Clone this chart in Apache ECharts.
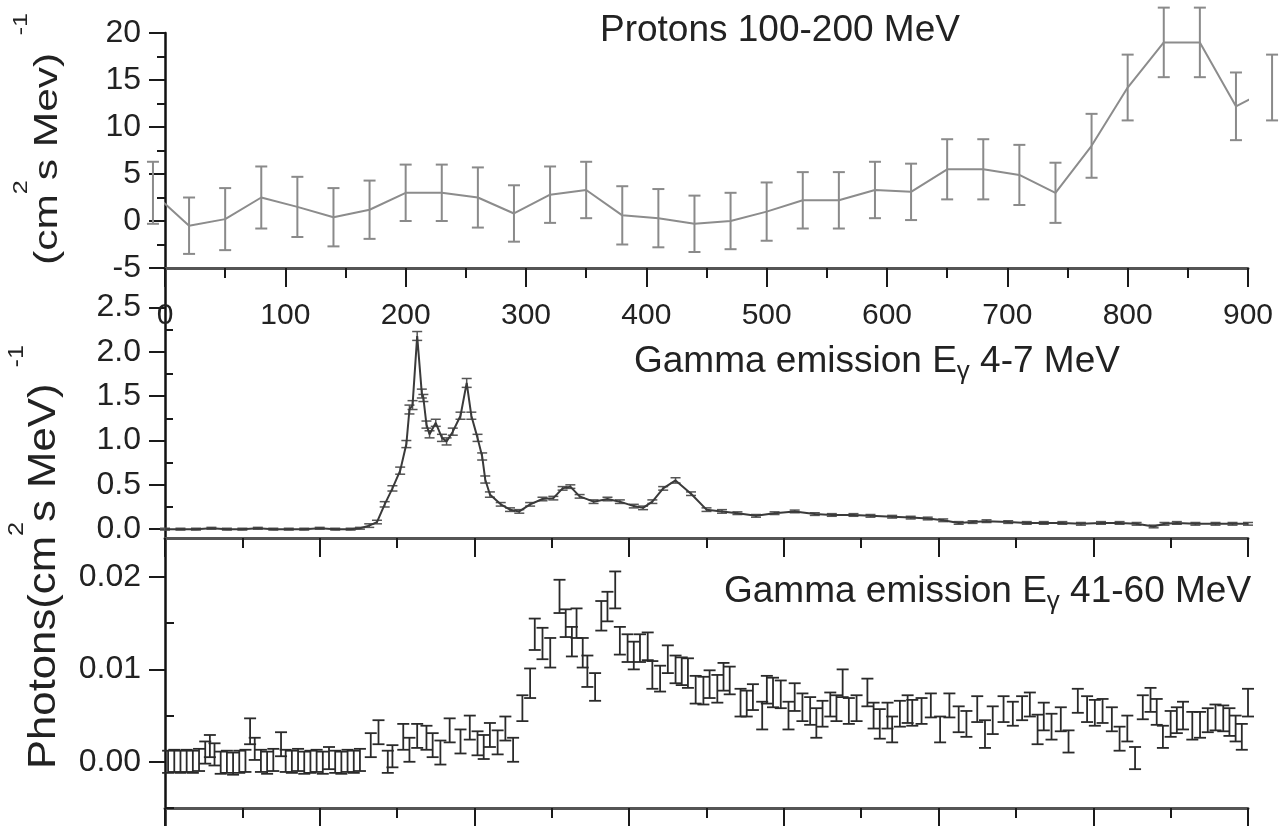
<!DOCTYPE html>
<html><head><meta charset="utf-8">
<script src="https://cdn.jsdelivr.net/npm/echarts@6/dist/echarts.min.js"></script>
<style>html,body{margin:0;padding:0;background:#fff}#c{width:1281px;height:826px}</style>
</head><body><div id="c"></div>
<script>
const FONT = '"Liberation Sans", Arial, Helvetica, sans-serif';

// ---- Panel 1: Protons 100-200 MeV ----
const topX = [-10,20,50,80,110,140,170,200,230,260,290,320,350,380,410,440,470,500,530,560,590,620,650,680,710,740,770,800,830,860,890,920];
const topY = [3.0,-0.5,0.2,2.5,1.5,0.4,1.2,3.0,3.0,2.5,0.8,2.8,3.3,0.6,0.3,-0.3,0.0,1.0,2.2,2.2,3.3,3.1,5.5,5.5,4.9,3.0,8.0,14.2,19.0,19.0,12.2,14.2];
const topE = [3.3,3.0,3.3,3.3,3.2,3.1,3.1,3.0,3.0,3.2,3.0,3.0,3.0,3.1,3.1,3.0,3.0,3.1,3.0,3.0,3.0,3.0,3.2,3.2,3.2,3.2,3.4,3.5,3.7,3.7,3.6,3.5];

// ---- Panel 2: Gamma emission 4-7 MeV ----
const midX = [0,10,20,30,40,50,60,70,80,90,
  100,110,120,126,132,137,142,147,152,156,
  158,160,163,166,167,169,171,175,179,182,
  186,191,195,198,202,205,207,210,217,223,
  229,236,244,251,257,262,268,277,286,294,
  303,309,315,322,330,340,350,360,370,382,
  394,407,420,431,445,456,470,482,493,503,
  513,522,531,545,557,568,580,592,605,617,
  628,639,646,654,666,679,690,700];
const midY = [0.00,0.00,0.00,0.01,0.00,0.00,0.01,0.00,0.00,0.00,
  0.01,0.00,0.00,0.01,0.04,0.08,0.28,0.46,0.66,0.96,
  1.35,1.40,2.18,1.53,1.48,1.18,1.07,1.20,1.03,0.99,
  1.10,1.28,1.65,1.28,1.03,0.82,0.56,0.39,0.28,0.22,
  0.20,0.28,0.34,0.35,0.46,0.48,0.37,0.31,0.34,0.31,
  0.26,0.24,0.31,0.46,0.55,0.40,0.22,0.20,0.18,0.15,
  0.18,0.20,0.17,0.16,0.16,0.15,0.14,0.13,0.12,0.10,
  0.07,0.08,0.09,0.08,0.07,0.07,0.07,0.06,0.07,0.07,
  0.06,0.03,0.06,0.07,0.06,0.06,0.06,0.06];
const midE = [0.01,0.01,0.01,0.01,0.01,0.01,0.01,0.01,0.01,0.01,
  0.01,0.01,0.01,0.01,0.02,0.02,0.03,0.03,0.04,0.04,
  0.05,0.05,0.05,0.05,0.04,0.04,0.04,0.04,0.04,0.04,
  0.04,0.04,0.05,0.04,0.04,0.04,0.04,0.03,0.02,0.02,
  0.02,0.02,0.02,0.02,0.02,0.02,0.02,0.02,0.02,0.02,
  0.02,0.02,0.02,0.02,0.03,0.02,0.02,0.02,0.015,0.015,
  0.015,0.015,0.015,0.015,0.015,0.015,0.015,0.015,0.015,0.015,
  0.015,0.015,0.015,0.015,0.015,0.015,0.015,0.015,0.015,0.015,
  0.015,0.015,0.015,0.015,0.015,0.015,0.015,0.015];

// ---- Panel 3: Gamma emission 41-60 MeV ----
const lowX = [2,6,10,14,18,22,26,29,32,36,
  40,44,48,52,55,58,62,66,70,75,
  78,82,86,90,94,98,102,106,110,114,
  118,122,126,133,138,144,147,154,158,163,
  169,173,178,184,191,197,202,206,210,215,
  220,225,231,236,239,244,249,255,259,263,
  266,270,273,278,282,286,291,294,299,303,
  307,312,315,320,325,330,334,338,343,348,
  352,357,361,365,372,376,380,386,389,393,
  398,403,407,412,417,421,425,430,434,438,
  442,447,454,458,462,467,470,475,480,483,
  489,495,501,507,513,518,525,530,535,542,
  548,554,559,564,568,573,579,584,590,596,
  601,606,612,617,622,627,632,637,641,645,
  650,654,658,664,669,674,679,684,688,692,
  696,700];
const lowY = [0.0000,0.0001,0.0000,0.0001,0.0000,0.0002,0.0010,0.0017,0.0008,-0.0001,
  0.0000,-0.0002,0.0000,0.0001,0.0033,0.0014,0.0001,-0.0001,0.0002,0.0019,
  0.0001,0.0000,0.0002,-0.0001,0.0000,0.0001,-0.0001,0.0004,0.0000,-0.0001,
  0.0001,0.0000,0.0002,0.0018,0.0032,0.0000,0.0006,0.0027,0.0013,0.0028,
  0.0026,0.0018,0.0010,0.0034,0.0022,0.0037,0.0020,0.0016,0.0029,0.0021,
  0.0036,0.0013,0.0058,0.0085,0.0138,0.0128,0.0118,0.0179,0.0150,0.0130,
  0.0150,0.0118,0.0098,0.0081,0.0158,0.0168,0.0186,0.0131,0.0123,0.0115,
  0.0123,0.0125,0.0094,0.0090,0.0111,0.0100,0.0098,0.0096,0.0078,0.0077,
  0.0084,0.0079,0.0092,0.0088,0.0064,0.0063,0.0070,0.0050,0.0078,0.0075,
  0.0073,0.0050,0.0070,0.0059,0.0055,0.0042,0.0052,0.0062,0.0058,0.0085,
  0.0055,0.0058,0.0075,0.0050,0.0041,0.0050,0.0035,0.0052,0.0057,0.0053,
  0.0055,0.0061,0.0035,0.0061,0.0046,0.0041,0.0057,0.0030,0.0045,0.0057,
  0.0052,0.0058,0.0062,0.0035,0.0049,0.0038,0.0046,0.0022,0.0066,0.0057,
  0.0053,0.0055,0.0046,0.0025,0.0036,0.0004,0.0059,0.0067,0.0054,0.0027,
  0.0041,0.0045,0.0050,0.0039,0.0040,0.0045,0.0048,0.0047,0.0043,0.0036,
  0.0027,0.0064];
const lowE = [0.0012,0.0012,0.0012,0.0012,0.0012,0.0012,0.0012,0.0012,0.0012,0.0012,
  0.0012,0.0012,0.0012,0.0012,0.0014,0.0012,0.0012,0.0012,0.0012,0.0013,
  0.0012,0.0012,0.0012,0.0012,0.0012,0.0012,0.0012,0.0012,0.0012,0.0012,
  0.0012,0.0012,0.0012,0.0013,0.0013,0.0012,0.0012,0.0014,0.0013,0.0013,
  0.0013,0.0013,0.0013,0.0013,0.0013,0.0013,0.0013,0.0013,0.0013,0.0013,
  0.0013,0.0013,0.0014,0.0016,0.0017,0.0017,0.0016,0.0018,0.0015,0.0016,
  0.0016,0.0016,0.0017,0.0015,0.0016,0.0016,0.0020,0.0015,0.0015,0.0015,
  0.0015,0.0015,0.0015,0.0014,0.0015,0.0015,0.0015,0.0016,0.0015,0.0015,
  0.0015,0.0015,0.0015,0.0015,0.0015,0.0014,0.0014,0.0015,0.0015,0.0016,
  0.0015,0.0015,0.0015,0.0015,0.0015,0.0016,0.0014,0.0013,0.0014,0.0015,
  0.0014,0.0014,0.0015,0.0014,0.0016,0.0014,0.0014,0.0014,0.0015,0.0014,
  0.0014,0.0013,0.0014,0.0013,0.0014,0.0014,0.0014,0.0015,0.0015,0.0014,
  0.0013,0.0013,0.0013,0.0016,0.0015,0.0014,0.0013,0.0012,0.0013,0.0014,
  0.0014,0.0013,0.0013,0.0013,0.0014,0.0012,0.0013,0.0013,0.0014,0.0012,
  0.0014,0.0014,0.0015,0.0015,0.0014,0.0013,0.0014,0.0014,0.0015,0.0014,
  0.0014,0.0015];

// tick labels
const midYLabels = [0, 0.5, 1.0, 1.5, 2.0, 2.5];
const midYMinor = [0.25, 0.75, 1.25, 1.75, 2.25];
const lowYLabels = [0, 0.01, 0.02];
const lowYMinor = [-0.005, 0.005, 0.015];

const titles = ['Protons 100-200 MeV', ['Gamma emission E', 'γ', ' 4-7 MeV'], ['Gamma emission E', 'γ', ' 41-60 MeV']];
// axis-name pieces: [body, superscript, body, superscript]
const topUnit = ['(cm', '2', 's Mev)', '-1'];
const lowUnit = ['Photons(cm', '2', 's MeV)', '-1'];

function errBars(color, cap, lw) {
  return function (params, api) {
    const x = api.value(0), y = api.value(1), e = api.value(2);
    const hi = api.coord([x, y + e]);
    const lo = api.coord([x, y - e]);
    const mk = (x1, y1, x2, y2) => ({type: 'line', shape: {x1, y1, x2, y2}, style: {stroke: color, lineWidth: lw}});
    return {type: 'group', children: [
      mk(hi[0], hi[1], lo[0], lo[1]),
      mk(hi[0] - cap, hi[1], hi[0] + cap, hi[1]),
      mk(lo[0] - cap, lo[1], lo[0] + cap, lo[1])
    ]};
  };
}

const tickStyle = {color: '#1a1a1a', width: 2};
function xAx(grid, max, showLabel, offset) {
  return {
    gridIndex: grid, type: 'value', min: 0, max: max, interval: 100, position: 'bottom', offset: offset,
    axisLine: {show: true, onZero: false, lineStyle: {color: '#555', width: 3}},
    axisTick: {show: true, length: 19, lineStyle: tickStyle},
    minorTick: {show: true, splitNumber: 2, length: 10, lineStyle: tickStyle},
    axisLabel: {show: showLabel, fontSize: 30, color: '#222', fontFamily: FONT, margin: 33},
    splitLine: {show: false}, minorSplitLine: {show: false}
  };
}
const yLine = {show: true, onZero: false, lineStyle: {color: '#111', width: 2.5}};
const yLabel = {fontSize: 32, color: '#222', fontFamily: FONT, margin: 24};

const gammaRich = {
  a: {fontSize: 37, lineHeight: 37, fontWeight: 'normal', verticalAlign: 'top', fontFamily: FONT, color: '#222'},
  g: {fontSize: 26, lineHeight: 26, fontWeight: 'normal', padding: [16, 0, 0, 0], verticalAlign: 'top', fontFamily: FONT, color: '#222'}
};
const gt = t => '{a|' + t[0] + '}{g|' + t[1] + '}{a|' + t[2] + '}';

// rotated unit label built from text pieces (body + raised superscripts)
function unitLabel(parts, cx, cy, fsBody, fsSup, supShift, gap, stretch) {
  const ctx = document.createElement('canvas').getContext('2d');
  const w = (t, fs) => { ctx.font = fs + 'px ' + FONT; return ctx.measureText(t).width; };
  const widths = [w(parts[0], fsBody), w(parts[1], fsSup), w(parts[2], fsBody), w(parts[3], fsSup)];
  const total = widths[0] + widths[1] + widths[2] + gap + widths[3];
  let x = -total / 2;
  const kids = [];
  parts.forEach((p, i) => {
    if (i === 3) x += gap;
    const sup = i % 2 === 1;
    kids.push({type: 'text', x: x, y: sup ? -supShift : 0,
      style: {text: p, fontSize: sup ? fsSup : fsBody, fontFamily: FONT, fill: '#222', align: 'left', verticalAlign: 'middle'}});
    x += widths[i];
  });
  return {type: 'group', x: cx, y: cy, rotation: Math.PI / 2, scaleX: stretch, children: kids};
}

const chart = echarts.init(document.getElementById('c'));
chart.setOption({
  animation: false,
  backgroundColor: '#fff',
  title: [
    {text: titles[0], left: 600, top: 12, padding: 0, textStyle: {fontSize: 37, lineHeight: 37, fontWeight: 'normal', fontFamily: FONT, color: '#222'}},
    {text: gt(titles[1]), left: 634, top: 343, padding: 0, textStyle: {fontWeight: 'normal', rich: gammaRich}},
    {text: gt(titles[2]), left: 724, top: 573, padding: 0, textStyle: {fontWeight: 'normal', rich: gammaRich}}
  ],
  grid: [
    {left: 165, width: 1083, top: 33, height: 235},
    {left: 165, width: 1083, top: 268, height: 270},
    {left: 165, width: 1083, top: 538, height: 288}
  ],
  xAxis: [xAx(0, 900, true, 0), xAx(1, 700, false, 0), xAx(2, 700, false, -18)],
  yAxis: [
    {gridIndex: 0, type: 'value', min: -5, max: 20, interval: 5, axisLine: yLine,
      axisTick: {show: true, length: 16, lineStyle: tickStyle},
      minorTick: {show: true, splitNumber: 2, length: 8, lineStyle: tickStyle},
      axisLabel: yLabel, splitLine: {show: false}},
    {gridIndex: 1, type: 'value', min: -0.1, max: 2.947, axisLine: yLine,
      axisTick: {show: true, length: 16, lineStyle: tickStyle, customValues: midYLabels},
      axisLabel: Object.assign({customValues: midYLabels, formatter: v => Number(v).toFixed(1)}, yLabel),
      splitLine: {show: false}},
    {gridIndex: 1, type: 'value', min: -0.1, max: 2.947, axisLine: {show: false},
      axisTick: {show: true, length: 8, lineStyle: tickStyle, customValues: midYMinor},
      axisLabel: {show: false}, splitLine: {show: false}},
    {gridIndex: 2, type: 'value', min: -0.00695, max: 0.02422, axisLine: yLine,
      axisTick: {show: true, length: 16, lineStyle: tickStyle, customValues: lowYLabels},
      axisLabel: Object.assign({customValues: lowYLabels, formatter: v => Number(v).toFixed(2)}, yLabel),
      splitLine: {show: false}},
    {gridIndex: 2, type: 'value', min: -0.00695, max: 0.02422, axisLine: {show: false},
      axisTick: {show: true, length: 9, lineStyle: tickStyle, customValues: lowYMinor},
      axisLabel: {show: false}, splitLine: {show: false}}
  ],
  series: [
    {type: 'line', xAxisIndex: 0, yAxisIndex: 0, clip: false, symbol: 'none',
      lineStyle: {color: '#8c8c8c', width: 2}, data: topX.map((x, i) => [x, topY[i]])},
    {type: 'custom', xAxisIndex: 0, yAxisIndex: 0, clip: false, encode: {x: 0, y: 1},
      renderItem: errBars('#8a8a8a', 6, 2), data: topX.map((x, i) => [x, topY[i], topE[i]])},
    {type: 'line', xAxisIndex: 1, yAxisIndex: 1, symbol: 'none',
      lineStyle: {color: '#3a3a3a', width: 2}, data: midX.map((x, i) => [x, midY[i]])},
    {type: 'custom', xAxisIndex: 1, yAxisIndex: 1, encode: {x: 0, y: 1},
      renderItem: errBars('#555', 5, 1.5), data: midX.map((x, i) => [x, midY[i], midE[i]])},
    {type: 'custom', xAxisIndex: 2, yAxisIndex: 3, encode: {x: 0, y: 1},
      renderItem: errBars('#2a2a2a', 6, 1.8), data: lowX.map((x, i) => [x, lowY[i], lowE[i]])}
  ],
  graphic: [
    unitLabel(topUnit, 48, 139, 34, 20, 27, 14, 1.25),
    unitLabel(lowUnit, 45, 557, 38, 22, 28, 14, 1.15)
  ]
});
</script></body></html>
